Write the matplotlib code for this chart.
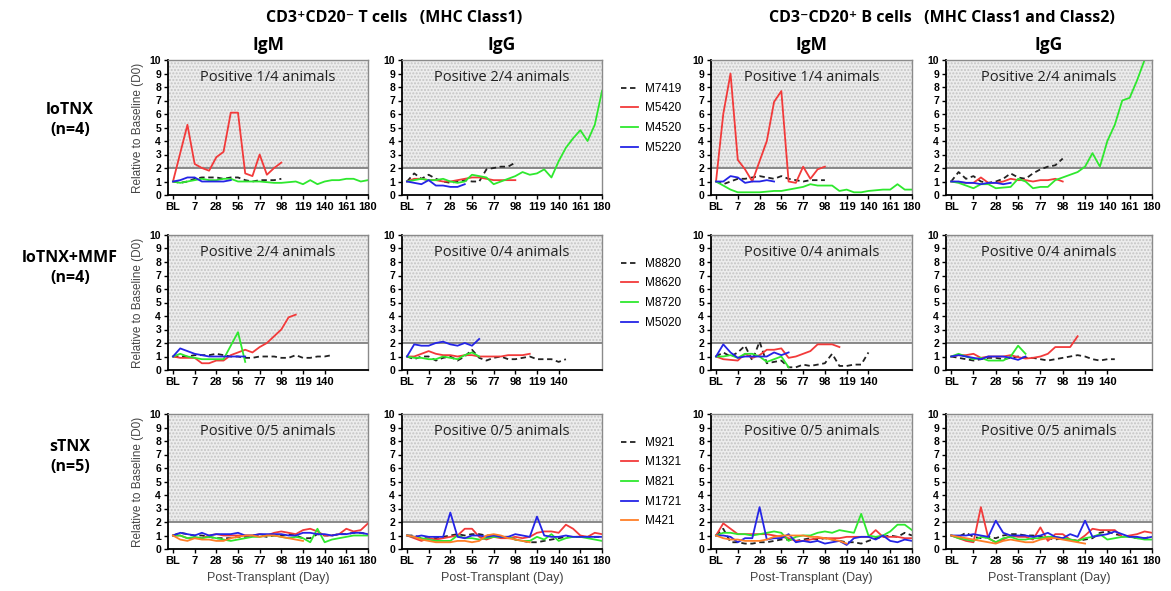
import numpy as np
import matplotlib.pyplot as plt

plt.rcParams['font.family'] = ['Open Sans', 'DejaVu Sans']

# x axis: sample index, 3 samples between labelled ticks
xtick_labels = ['BL', '7', '28', '56', '77', '98', '119', '140', '161', '180']
xtick_labels_mmf = ['BL', '7', '28', '56', '77', '98', '119', '140']

animals_lo = ['M7419', 'M5420', 'M4520', 'M5220']
animals_mmf = ['M8820', 'M8620', 'M8720', 'M5020']
animals_s = ['M921', 'M1321', 'M821', 'M1721', 'M421']

line_colors = ['#222222', '#f23a3a', '#2ee82e', '#2424e6', '#ff7f27']

notes = [['Positive 1/4 animals', 'Positive 2/4 animals', 'Positive 1/4 animals', 'Positive 2/4 animals'],
         ['Positive 2/4 animals', 'Positive 0/4 animals', 'Positive 0/4 animals', 'Positive 0/4 animals'],
         ['Positive 0/5 animals', 'Positive 0/5 animals', 'Positive 0/5 animals', 'Positive 0/5 animals']]

# ---- loTNX (n=4) ----
lo_t_igm = {
    'M7419': [1.0, 0.9, 1.0, 1.2, 1.3, 1.3, 1.3, 1.2, 1.3, 1.3, 1.1, 1.0, 1.1, 1.1, 1.1, 1.2],
    'M5420': [1.0, 3.1, 5.2, 2.3, 2.0, 1.8, 2.8, 3.2, 6.1, 6.1, 1.6, 1.4, 3.0, 1.5, 2.0, 2.4],
    'M4520': [1.0, 0.9, 1.0, 1.1, 1.2, 1.1, 1.1, 1.2, 1.2, 1.0, 1.0, 1.0, 1.0, 0.95, 0.9, 0.9,
              0.95, 1.0, 0.8, 1.1, 0.8, 1.0, 1.1, 1.1, 1.2, 1.2, 1.0, 1.1],
    'M5220': [1.0, 1.1, 1.3, 1.3, 1.0, 1.0, 1.0, 1.0, 1.1],
}
lo_t_igg = {
    'M7419': [1.0, 1.6, 1.2, 1.5, 1.2, 1.0, 0.9, 1.0, 1.1, 1.0, 1.0, 1.9, 2.0, 2.1, 2.1, 2.4],
    'M5420': [1.0, 1.2, 1.2, 1.1, 1.1, 1.0, 1.0, 1.1, 1.2, 1.3, 1.3, 1.2, 1.1, 1.1, 1.1, 1.1],
    'M4520': [1.0, 1.1, 1.2, 1.1, 1.1, 1.2, 1.0, 0.9, 1.0, 1.5, 1.4, 1.3, 0.8, 1.0, 1.2, 1.4,
              1.7, 1.5, 1.6, 1.9, 1.3, 2.5, 3.5, 4.2, 4.8, 4.0, 5.2, 7.7],
    'M5220': [1.0, 0.9, 0.8, 1.1, 0.7, 0.7, 0.6, 0.6, 0.8],
}
lo_b_igm = {
    'M7419': [1.0, 0.8, 1.0, 1.2, 1.2, 1.3, 1.4, 1.3, 1.2, 1.4, 1.2, 1.1, 1.0, 1.1, 1.1, 1.1],
    'M5420': [1.0, 6.0, 9.0, 2.6, 1.9, 1.0, 2.5, 4.0, 6.9, 7.7, 1.0, 0.9, 2.1, 1.2, 1.9, 2.1],
    'M4520': [1.0, 0.7, 0.4, 0.2, 0.2, 0.2, 0.2, 0.25, 0.3, 0.3, 0.4, 0.5, 0.6, 0.8, 0.7, 0.7,
              0.7, 0.3, 0.4, 0.2, 0.2, 0.3, 0.35, 0.4, 0.4, 0.8, 0.4, 0.4],
    'M5220': [1.0, 1.0, 1.4, 1.3, 0.9, 1.0, 1.0, 1.1, 1.0],
}
lo_b_igg = {
    'M7419': [1.0, 1.7, 1.2, 1.4, 1.0, 0.9, 1.0, 1.2, 1.6, 1.3, 1.2, 1.6, 1.9, 2.1, 2.2, 2.7],
    'M5420': [1.0, 0.95, 0.9, 0.9, 1.3, 0.9, 0.9, 1.0, 1.2, 1.1, 1.1, 1.0, 1.1, 1.1, 1.2, 1.0],
    'M4520': [1.0, 0.9, 0.7, 0.5, 0.8, 0.8, 0.5, 0.55, 0.6, 1.2, 1.0, 0.5, 0.6, 0.6, 1.1, 1.3,
              1.5, 1.7, 2.1, 3.1, 2.1, 4.0, 5.2, 7.0, 7.2, 8.5, 10.0, 12.0],
    'M5220': [1.0, 1.0, 0.9, 0.9, 0.8, 0.9, 0.9, 0.8, 0.9],
}

# ---- loTNX+MMF (n=4) ----
mmf_t_igm = {
    'M8820': [1.0, 1.0, 1.0, 1.1, 1.1, 1.1, 1.2, 1.1, 1.0, 1.0, 0.9, 0.9, 1.0, 1.0, 1.0, 0.9,
              0.9, 1.1, 0.9, 0.9, 1.0, 1.0, 1.1],
    'M8620': [1.0, 0.9, 0.9, 0.9, 0.5, 0.5, 0.7, 0.7, 1.1, 1.3, 1.5, 1.3, 1.7, 2.0, 2.5, 3.0,
              3.9, 4.1],
    'M8720': [1.0, 1.2, 1.0, 0.9, 0.8, 0.8, 0.8, 0.8, 1.8, 2.8, 0.6],
    'M5020': [1.0, 1.6, 1.4, 1.2, 1.1, 1.0, 1.0, 1.0, 1.0, 1.0, 1.0],
}
mmf_t_igg = {
    'M8820': [1.0, 0.8, 1.0, 1.0, 0.7, 0.9, 1.0, 0.7, 1.0, 1.5, 0.9, 0.7, 0.9, 1.0, 0.8, 0.8,
              0.9, 1.0, 0.8, 0.8, 0.8, 0.6, 0.8],
    'M8620': [1.0, 1.0, 1.2, 1.4, 1.2, 1.1, 1.1, 1.0, 1.1, 1.1, 1.0, 1.0, 1.0, 1.0, 1.1, 1.1,
              1.1, 1.2],
    'M8720': [1.0, 0.9, 0.9, 0.8, 0.8, 1.0, 0.9, 0.8, 1.1, 1.3, 1.0],
    'M5020': [1.0, 1.9, 1.8, 1.8, 2.0, 2.1, 1.9, 1.8, 2.0, 1.8, 2.3],
}
mmf_b_igm = {
    'M8820': [1.0, 1.3, 1.0, 1.3, 1.8, 0.7, 2.1, 0.5, 0.6, 0.7, 0.2, 0.2, 0.4, 0.3, 0.4, 0.5,
              1.2, 0.3, 0.3, 0.4, 0.4, 1.3],
    'M8620': [1.0, 0.8, 0.75, 0.7, 1.2, 0.9, 1.1, 1.5, 1.5, 1.6, 0.9, 1.0, 1.2, 1.4, 1.9, 1.9,
              1.9, 1.7],
    'M8720': [1.0, 1.0, 1.1, 0.9, 1.2, 1.2, 1.0, 0.6, 0.8, 1.0, 0.2],
    'M5020': [1.0, 1.9, 1.3, 0.9, 1.0, 1.0, 1.0, 1.0, 1.3, 1.1, 1.3],
}
mmf_b_igg = {
    'M8820': [1.0, 0.9, 0.8, 0.7, 0.8, 0.9, 0.9, 0.8, 0.9, 1.0, 0.9, 0.9, 0.8, 0.7, 0.8, 0.9,
              1.0, 1.1, 1.0, 0.8, 0.7, 0.8, 0.8],
    'M8620': [1.0, 1.1, 1.1, 1.2, 0.9, 1.0, 1.0, 1.0, 1.1, 0.95, 0.85, 0.9, 1.0, 1.2, 1.7, 1.7,
              1.7, 2.5],
    'M8720': [1.0, 1.2, 1.0, 0.8, 0.9, 0.7, 0.7, 0.7, 1.0, 1.8, 1.2],
    'M5020': [1.0, 1.1, 1.0, 0.9, 0.8, 1.0, 1.0, 1.0, 0.9, 0.75, 1.0],
}

# ---- sTNX (n=5) ----
s_t_igm = {
    'M921': [1.0, 1.2, 1.1, 1.0, 1.0, 0.9, 0.8, 0.8, 0.8, 0.9, 0.9, 1.0, 1.0, 0.9, 1.0, 1.0,
             1.1, 1.0, 0.8, 0.8, 1.1, 1.0, 1.0, 1.1, 1.1, 1.2, 1.2, 1.1],
    'M1321': [1.0, 1.0, 0.8, 0.8, 0.8, 1.0, 1.1, 1.0, 1.0, 1.0, 1.0, 1.0, 1.1, 1.0, 1.2, 1.3,
              1.2, 1.1, 1.4, 1.5, 1.3, 1.0, 1.0, 1.1, 1.5, 1.3, 1.4, 1.9],
    'M821': [1.0, 1.0, 0.8, 0.9, 0.8, 0.9, 0.8, 0.7, 0.6, 0.7, 0.8, 0.9, 0.9, 1.0, 1.0, 0.9,
             0.8, 0.9, 0.8, 0.5, 1.5, 0.5, 0.7, 0.8, 0.9, 1.0, 1.0, 1.0],
    'M1721': [1.0, 1.2, 1.1, 1.0, 1.2, 1.0, 1.1, 1.1, 1.1, 1.2, 1.0, 1.0, 1.1, 1.1, 1.1, 1.1,
              1.0, 1.0, 1.2, 1.2, 1.1, 1.1, 1.0, 1.1, 1.1, 1.2, 1.2, 1.1],
    'M421': [1.0, 0.7, 0.6, 0.8, 0.7, 0.7, 0.6, 0.6, 0.8, 0.9, 1.0, 1.0, 0.9, 1.0, 1.0, 0.9,
             0.8, 0.7, 0.6],
}
s_t_igg = {
    'M921': [1.0, 1.0, 0.8, 0.8, 0.8, 0.9, 1.0, 1.1, 1.0, 1.1, 1.1, 1.0, 1.0, 0.9, 0.9, 0.7,
             0.6, 0.5, 0.5, 0.6, 0.7, 0.8, 0.9, 0.9, 0.9, 0.9, 0.9, 0.9],
    'M1321': [1.0, 0.8, 0.6, 0.8, 0.7, 0.8, 0.9, 1.0, 1.5, 1.5, 0.9, 0.7, 0.9, 0.8, 0.8, 0.9,
              0.8, 0.9, 1.2, 1.3, 1.3, 1.2, 1.8, 1.5, 1.0, 0.9, 1.2, 1.1],
    'M821': [1.0, 0.9, 0.8, 0.7, 0.6, 0.6, 0.6, 1.0, 0.8, 0.8, 0.7, 0.8, 0.9, 0.9, 0.9, 0.7,
             0.6, 0.6, 0.9, 0.7, 1.1, 0.6, 0.8, 0.9, 0.9, 0.8, 0.7, 0.6],
    'M1721': [1.0, 0.9, 1.0, 0.9, 0.9, 0.9, 2.7, 0.9, 0.8, 1.0, 1.0, 0.9, 1.0, 0.9, 0.9, 1.1,
              1.0, 0.9, 2.4, 1.0, 0.9, 0.9, 1.0, 0.9, 0.9, 0.9, 0.9, 0.9],
    'M421': [1.0, 0.9, 0.7, 0.6, 0.5, 0.5, 0.5, 0.6, 0.6, 0.5, 0.6, 1.0, 1.1, 1.0, 0.8, 0.7,
             0.6, 0.5],
}
s_b_igm = {
    'M921': [1.0, 1.5, 0.5, 0.5, 0.4, 0.4, 0.5, 0.5, 0.6, 0.7, 0.7, 0.6, 0.7, 0.8, 0.7, 0.8,
             0.7, 0.6, 0.5, 0.5, 0.4, 0.6, 0.8, 0.9, 1.0, 0.9, 1.2, 1.0],
    'M1321': [1.0, 1.9, 1.5, 1.1, 1.1, 1.1, 1.1, 1.1, 1.0, 0.9, 0.8, 0.6, 0.6, 0.7, 0.8, 0.8,
              0.8, 0.8, 0.9, 0.9, 0.9, 0.9, 1.4, 0.9, 0.9, 0.9, 0.8, 0.8],
    'M821': [1.0, 1.2, 1.2, 1.1, 1.1, 1.0, 1.1, 1.2, 1.3, 1.2, 0.6, 0.9, 1.0, 1.0, 1.2, 1.3,
             1.2, 1.4, 1.3, 1.2, 2.6, 1.0, 0.9, 1.0, 1.3, 1.8, 1.8, 1.4],
    'M1721': [1.0, 1.0, 0.9, 0.5, 0.8, 0.8, 3.1, 0.7, 0.8, 0.8, 1.1, 0.5, 0.6, 0.5, 0.6, 0.4,
              0.5, 0.6, 0.3, 0.8, 0.9, 0.9, 0.7, 1.0, 0.6, 0.5, 0.7, 0.6],
    'M421': [1.0, 0.8, 0.7, 0.7, 0.6, 0.6, 0.6, 0.7, 0.9, 1.0, 1.0, 1.0, 1.0, 0.9, 0.9, 0.8,
             0.7, 0.6, 0.4],
}
s_b_igg = {
    'M921': [1.0, 0.9, 1.2, 0.9, 0.8, 0.9, 0.8, 1.0, 1.1, 1.1, 1.0, 1.0, 0.9, 0.8, 0.7, 0.8,
             0.7, 0.6, 0.7, 0.8, 1.2, 1.3, 1.1, 1.0, 0.9, 0.8, 0.8, 0.9],
    'M1321': [1.0, 0.8, 0.6, 0.5, 3.1, 0.8, 0.5, 0.7, 1.0, 0.9, 0.9, 0.7, 1.6, 0.6, 1.1, 1.1,
              0.7, 0.6, 1.0, 1.5, 1.4, 1.4, 1.4, 0.9, 1.0, 1.1, 1.3, 1.2],
    'M821': [1.0, 0.8, 0.7, 0.6, 0.9, 0.8, 0.5, 0.8, 0.9, 0.7, 0.7, 0.8, 0.8, 0.9, 0.9, 0.8,
             0.7, 0.6, 0.8, 0.9, 1.1, 0.7, 0.8, 0.9, 0.9, 0.8, 0.7, 0.7],
    'M1721': [1.0, 1.0, 1.0, 1.1, 1.0, 0.9, 2.1, 1.2, 1.0, 1.0, 1.0, 0.9, 1.0, 1.2, 0.9, 0.8,
              1.1, 0.9, 2.1, 0.9, 1.0, 1.1, 1.3, 1.1, 0.9, 0.9, 0.8, 0.9],
    'M421': [1.0, 0.9, 0.8, 0.7, 0.6, 0.5, 0.4, 0.6, 0.7, 0.6, 0.5, 0.5, 0.7, 0.8, 0.8, 0.7,
             0.6, 0.5, 0.4],
}

panels = [[lo_t_igm, lo_t_igg, lo_b_igm, lo_b_igg],
          [mmf_t_igm, mmf_t_igg, mmf_b_igm, mmf_b_igg],
          [s_t_igm, s_t_igg, s_b_igm, s_b_igg]]
row_ticks = [xtick_labels, xtick_labels_mmf, xtick_labels]

W, H = 1171, 591
fig = plt.figure(figsize=(W / 100, H / 100), dpi=100)

# axes boxes in pixels
col_left = [168, 402, 711, 946]
col_w = [200, 200, 201, 206]
row_top = [60, 235, 414]
row_h = 135

arial = 'Liberation Sans'


def draw_panel(ax, series, ticks, first_col, last_row, note):
    ax.axhspan(2, 10, facecolor='#ededed', edgecolor='#c4c4c4', hatch='.....', lw=0, zorder=0)
    ax.axhline(2, color='#808080', lw=1.3, zorder=1)
    for k, (name, vals) in enumerate(series.items()):
        x = np.arange(len(vals)) / 3
        ls = (0, (3, 2)) if k == 0 else '-'
        ax.plot(x, vals, color=line_colors[k], lw=1.3, ls=ls, label=name, zorder=2)
    ax.set_xlim(-0.23, 9)
    ax.set_ylim(0, 10)
    ax.set_yticks(range(11))
    ax.set_yticklabels([str(v) for v in range(11)], fontsize=7.5, fontweight='bold', family=arial)
    ax.set_xticks(range(len(ticks)))
    ax.set_xticklabels(ticks, fontsize=8, fontweight='bold', family=arial)
    ax.tick_params(length=3, width=1, pad=2)
    for s in ['left', 'bottom']:
        ax.spines[s].set_linewidth(1.3)
    for s in ['top', 'right']:
        ax.spines[s].set_color('#8a8a8a')
        ax.spines[s].set_linewidth(1.0)
    ax.text(0.5, 0.87, note, transform=ax.transAxes, ha='center', va='center', fontsize=10.5, color='#222222')
    if first_col:
        ax.set_ylabel('Relative to Baseline (D0)', fontsize=8.5, color='#444444', family=arial)
    if last_row:
        ax.set_xlabel('Post-Transplant (Day)', fontsize=9, color='#444444', family=arial)


for r in range(3):
    for c in range(4):
        ax = fig.add_axes([col_left[c] / W, 1 - (row_top[r] + row_h) / H, col_w[c] / W, row_h / H])
        draw_panel(ax, panels[r][c], row_ticks[r], c == 0, r == 2, notes[r][c])
        if c == 1:
            ax.legend(loc='upper left', bbox_to_anchor=(1.04, 0.91), frameon=False,
                      handlelength=1.5, labelspacing=0.65, handletextpad=0.6,
                      prop={'family': arial, 'size': 8.5})

# headers
fig.text(394 / W, 1 - 18 / H, 'CD3⁺CD20⁻ T cells   (MHC Class1)', ha='center', va='center',
         fontsize=11.5, fontweight='bold')
fig.text(942 / W, 1 - 18 / H, 'CD3⁻CD20⁺ B cells   (MHC Class1 and Class2)', ha='center', va='center',
         fontsize=11.5, fontweight='bold')
for c, lab in enumerate(['IgM', 'IgG', 'IgM', 'IgG']):
    fig.text((col_left[c] + col_w[c] / 2) / W, 1 - 45 / H, lab, ha='center', va='center',
             fontsize=12.5, fontweight='bold')

row_labels = ['loTNX\n(n=4)', 'loTNX+MMF\n(n=4)', 'sTNX\n(n=5)']
row_label_y = [120, 268, 457]
for lab, y in zip(row_labels, row_label_y):
    fig.text(70 / W, 1 - y / H, lab, ha='center', va='center', fontsize=11.5, fontweight='bold',
             linespacing=1.3)

fig.savefig('out.png', dpi=100)
